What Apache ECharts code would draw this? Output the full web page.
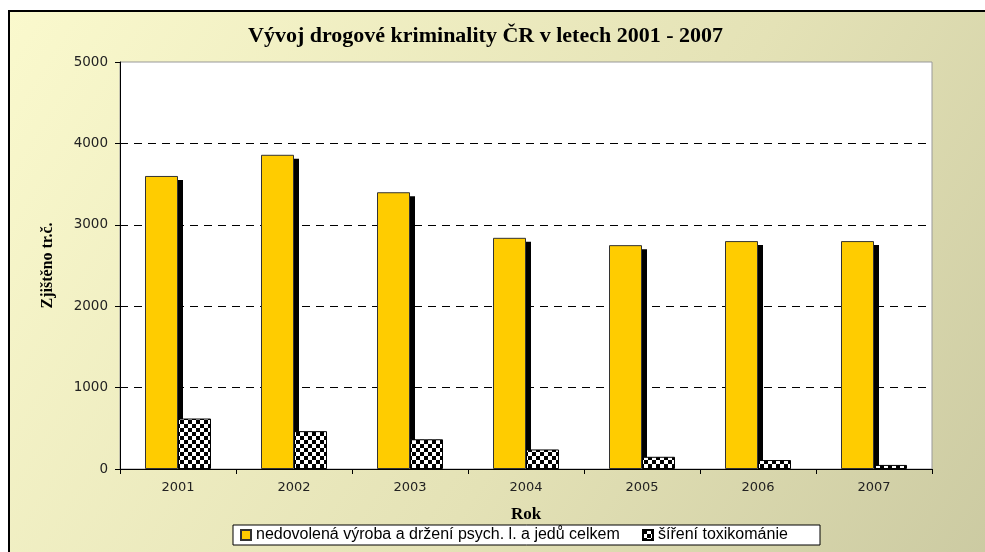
<!DOCTYPE html>
<html><head><meta charset="utf-8">
<script src="https://cdn.jsdelivr.net/npm/echarts@6/dist/echarts.min.js"></script>
<style>html,body{margin:0;padding:0;background:#fff;}#c{width:985px;height:552px;}</style>
</head><body><div id="c"></div>
<script>
const years = ['2001','2002','2003','2004','2005','2006','2007'];
const vyroba = [3600, 3860, 3400, 2840, 2750, 2800, 2800];
const sireni = [620, 465, 365, 240, 150, 110, 50];
const seriesNames = ['nedovolená výroba a držení psych. l. a jedů celkem', 'šíření toxikománie'];
const yTicks = [0, 1000, 2000, 3000, 4000, 5000];

const pc = document.createElement('canvas');
pc.width = 8; pc.height = 8;
const g = pc.getContext('2d');
g.fillStyle = '#fff'; g.fillRect(0,0,8,8);
g.fillStyle = '#000'; g.fillRect(0,0,4,4); g.fillRect(4,4,4,4);

const chart = echarts.init(document.getElementById('c'));
chart.setOption({
  animation: false,
  graphic: [{
    type: 'rect', z: -100, silent: true,
    shape: {x: 9, y: 11, width: 1100, height: 700},
    style: {
      fill: new echarts.graphic.LinearGradient(0, 0, 1, 1, [
        {offset: 0, color: '#faf9cd'},
        {offset: 0.5, color: '#e4e2b6'},
        {offset: 1, color: '#c2c19a'}
      ]),
      stroke: '#000', lineWidth: 2
    }
  }],
  title: {
    text: 'Vývoj drogové kriminality ČR v letech 2001 - 2007',
    left: 243, top: 20,
    textStyle: {fontFamily: 'Liberation Serif', fontWeight: 'bold', fontSize: 22, color: '#000'}
  },
  grid: {left: 120, right: 53, top: 62, bottom: 83, show: true, backgroundColor: '#fff', borderColor: '#999', borderWidth: 1},
  legend: {
    left: 233, top: 525,
    backgroundColor: '#fff', borderColor: '#000', borderWidth: 1,
    padding: [2, 5, 2, 7], itemWidth: 10, itemHeight: 10, itemGap: 5,
    formatter: name => name === seriesNames[0] ? '{a|' + name + '}' : '{b|' + name + '}',
    textStyle: {fontFamily: 'Liberation Sans', fontSize: 16, color: '#000',
      rich: {
        a: {fontFamily: 'Liberation Sans', fontSize: 16, color: '#000', width: 381, lineHeight: 16},
        b: {fontFamily: 'Liberation Sans', fontSize: 16, color: '#000', width: 157, lineHeight: 16}
      }},
    data: [{name: seriesNames[0], icon: 'rect'}, {name: seriesNames[1], icon: 'rect'}]
  },
  xAxis: {
    type: 'category', data: years,
    name: 'Rok', nameLocation: 'middle', nameGap: 37,
    nameTextStyle: {fontFamily: 'Liberation Serif', fontWeight: 'bold', fontSize: 17, color: '#000'},
    axisLine: {lineStyle: {color: '#000', width: 1}},
    axisTick: {show: true, length: 5, lineStyle: {color: '#000'}},
    axisLabel: {fontFamily: 'DejaVu Sans', fontSize: 13, color: '#222', margin: 12}
  },
  yAxis: {
    type: 'value', min: 0, max: 5000, interval: 1000,
    name: 'Zjištěno tr.č.', nameLocation: 'middle', nameGap: 64, nameRotate: 90,
    nameTextStyle: {fontFamily: 'Liberation Serif', fontWeight: 'bold', fontSize: 16, color: '#000'},
    axisLine: {show: true, lineStyle: {color: '#000', width: 1}},
    axisTick: {show: true, length: 5, lineStyle: {color: '#000'}},
    axisLabel: {fontFamily: 'DejaVu Sans', fontSize: 13.5, color: '#222', margin: 12,
      formatter: v => yTicks.includes(v) ? String(v) : ''},
    splitLine: {show: true, showMinLine: false, showMaxLine: false, lineStyle: {color: '#000', type: [8, 6], width: 1}}
  },
  series: [
    {
      name: 'shadow', type: 'custom', z: 1, silent: true,
      data: vyroba.map((v, i) => [i, v]),
      encode: {x: 0, y: 1},
      renderItem: (params, api) => {
        const top = api.coord([api.value(0), api.value(1)]);
        const base = api.coord([api.value(0), 0]);
        return {type: 'rect', shape: {x: top[0], y: top[1] + 4, width: 5, height: base[1] - top[1] - 4}, style: {fill: '#000'}};
      }
    },
    {
      name: seriesNames[0], type: 'bar', data: vyroba, barWidth: 33, barGap: '0%', z: 2,
      itemStyle: {color: '#ffcc00', borderColor: '#333', borderWidth: 1}
    },
    {
      name: seriesNames[1], type: 'bar', data: sireni, barWidth: 33, barGap: '0%', z: 3,
      itemStyle: {color: {image: pc, repeat: 'repeat'}, borderColor: '#000', borderWidth: 1}
    }
  ]
});
</script></body></html>
